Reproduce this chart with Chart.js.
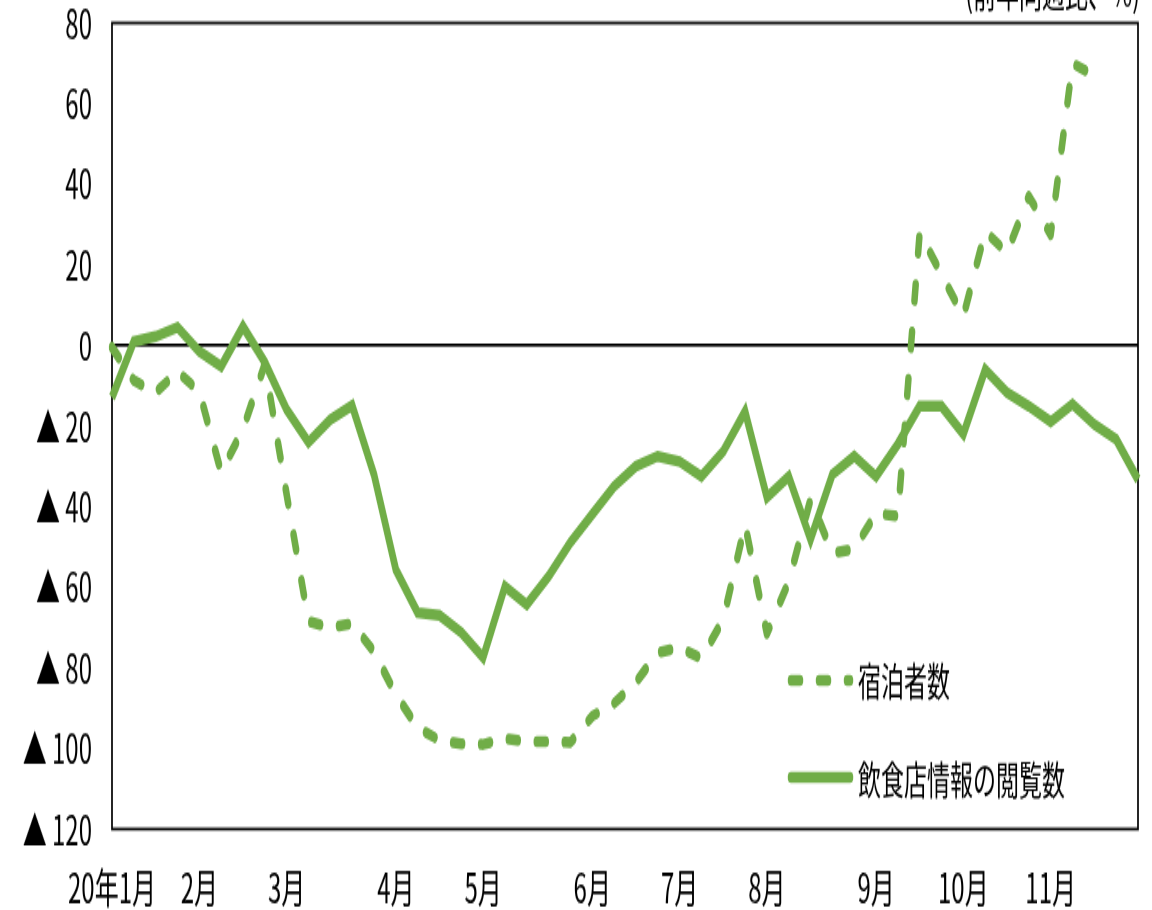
<!DOCTYPE html>
<html><head><meta charset="utf-8">
<script src="https://cdn.jsdelivr.net/npm/chart.js@4/dist/chart.umd.min.js"></script>
<style>
html,body{margin:0;padding:0;background:#fff;overflow:hidden;width:1152px;height:910px}
#wrap{width:1152px;height:535px;transform:scaleY(1.70093);transform-origin:0 0}
canvas{display:block}
</style></head>
<body><div id="wrap"><canvas id="c" width="1152" height="535"></canvas></div>
<script>
// Weekly categories (month label at the first week of each month)
const weekLabels = ['20年1月','','','','2月','','','','3月','','','','','4月','','','','5月','','','','','6月','','','','7月','','','','8月','','','','','9月','','','','10月','','','','11月','','','',''];
// 宿泊者数 (dashed)
const guests = [-0.5,-8.7,-11.7,-6.5,-11.4,-31.5,-20.8,-4.7,-37,-68.5,-70,-69,-76,-86.6,-94.8,-98,-98.8,-99,-97.5,-98.3,-98.3,-98.5,-92,-88.8,-83.6,-76.2,-75,-77.7,-68,-44.4,-71.5,-58.6,-38.2,-51.5,-50.5,-41.7,-42.4,28,17.6,7.2,28.3,23,37,27.5,70,67,null,null];
// 飲食店情報の閲覧数 (solid)
const views = [-12.9,1.0,2.2,4.5,-1.5,-5.2,4.7,-4.2,-15.9,-24,-18.4,-14.9,-32,-55.6,-66.3,-67,-71.2,-77.4,-59.8,-64.3,-57.3,-48.9,-41.9,-35,-30,-27.5,-28.8,-32.5,-26.3,-16.4,-37.7,-32.5,-48.1,-32,-27.5,-32.5,-24.5,-15.1,-15.1,-22,-6,-11.7,-15.1,-18.9,-14.6,-19.6,-23.3,-33.3];
const seriesNames = ['宿泊者数','飲食店情報の閲覧数'];
const unitLabel = '(前年同週比、%)';
const yMin = -120, yMax = 80, yStep = 20;

const FONT = "'Noto Sans CJK JP','Noto Sans',sans-serif";
const GREEN = '#70AD47';

const boxPlugin = {
  id: 'box',
  beforeDatasetsDraw(chart) {
    const {ctx, chartArea: a} = chart;
    ctx.save();
    ctx.strokeStyle = '#000';
    ctx.lineWidth = 1.7;
    ctx.strokeRect(a.left, a.top, a.right - a.left, a.bottom - a.top);
    ctx.restore();
  }
};

const legendPlugin = {
  id: 'insideLegend',
  afterDraw(chart) {
    const ctx = chart.ctx;
    const rows = [{y: 400, ty: 400.5}, {y: 457, ty: 458}];
    chart.data.datasets.forEach((ds, i) => {
      const r = rows[i];
      ctx.save();
      ctx.strokeStyle = ds.borderColor;
      ctx.lineWidth = ds.borderWidth;
      ctx.lineCap = 'round';
      ctx.setLineDash(ds.borderDash || []);
      ctx.beginPath();
      ctx.moveTo(791, r.y);
      ctx.lineTo(850, r.y);
      ctx.stroke();
      ctx.setLineDash([]);
      ctx.fillStyle = '#000';
      ctx.font = '23px ' + FONT;
      ctx.textBaseline = 'middle';
      ctx.textAlign = 'left';
      ctx.fillText(ds.label, 858, r.ty);
      ctx.restore();
    });
  }
};

const unitPlugin = {
  id: 'unit',
  afterDraw(chart) {
    const ctx = chart.ctx;
    ctx.save();
    ctx.fillStyle = '#000';
    ctx.font = '23px ' + FONT;
    ctx.textAlign = 'right';
    ctx.textBaseline = 'bottom';
    ctx.fillText(unitLabel, 1140, 7);
    ctx.restore();
  }
};

new Chart(document.getElementById('c'), {
  type: 'line',
  data: {
    labels: weekLabels,
    datasets: [
      {
        label: seriesNames[0],
        data: guests,
        borderColor: GREEN,
        backgroundColor: GREEN,
        borderWidth: 6.5,
        borderDash: [9, 19],
        borderCapStyle: 'round',
        borderJoinStyle: 'round',
        pointRadius: 0,
        tension: 0,
        fill: false
      },
      {
        label: seriesNames[1],
        data: views,
        borderColor: GREEN,
        backgroundColor: GREEN,
        borderWidth: 6.5,
        borderCapStyle: 'butt',
        borderJoinStyle: 'miter',
        pointRadius: 0,
        tension: 0,
        fill: false
      }
    ]
  },
  options: {
    responsive: false,
    animation: false,
    devicePixelRatio: 1,
    layout: {padding: {top: 13.5, right: 14, bottom: 0, left: 0}},
    plugins: {legend: {display: false}, tooltip: {enabled: false}, title: {display: false}},
    scales: {
      x: {
        type: 'category',
        offset: false,
        border: {display: false},
        grid: {display: false, drawTicks: false},
        ticks: {
          autoSkip: false, maxRotation: 0, minRotation: 0,
          padding: 20, color: '#000',
          font: {family: FONT, size: 24}
        },
        afterFit(scale) {
          scale.height = 47.6;
          scale.paddingLeft = 0; scale.paddingRight = 0;
        }
      },
      y: {
        min: yMin, max: yMax,
        border: {display: false},
        grid: {
          drawTicks: false,
          lineWidth: 1.7,
          color: ctx => (ctx.tick && ctx.tick.value === 0) ? '#000' : 'rgba(0,0,0,0)'
        },
        ticks: {
          stepSize: yStep, padding: 20, color: '#000',
          font: {family: FONT, size: 24},
          callback: v => v < 0 ? '▲ ' + (-v) : String(v)
        },
        afterFit(scale) {
          scale.width = 112;
          scale.paddingTop = 0; scale.paddingBottom = 0;
        }
      }
    }
  },
  plugins: [boxPlugin, legendPlugin, unitPlugin]
});
</script>
</body></html>
